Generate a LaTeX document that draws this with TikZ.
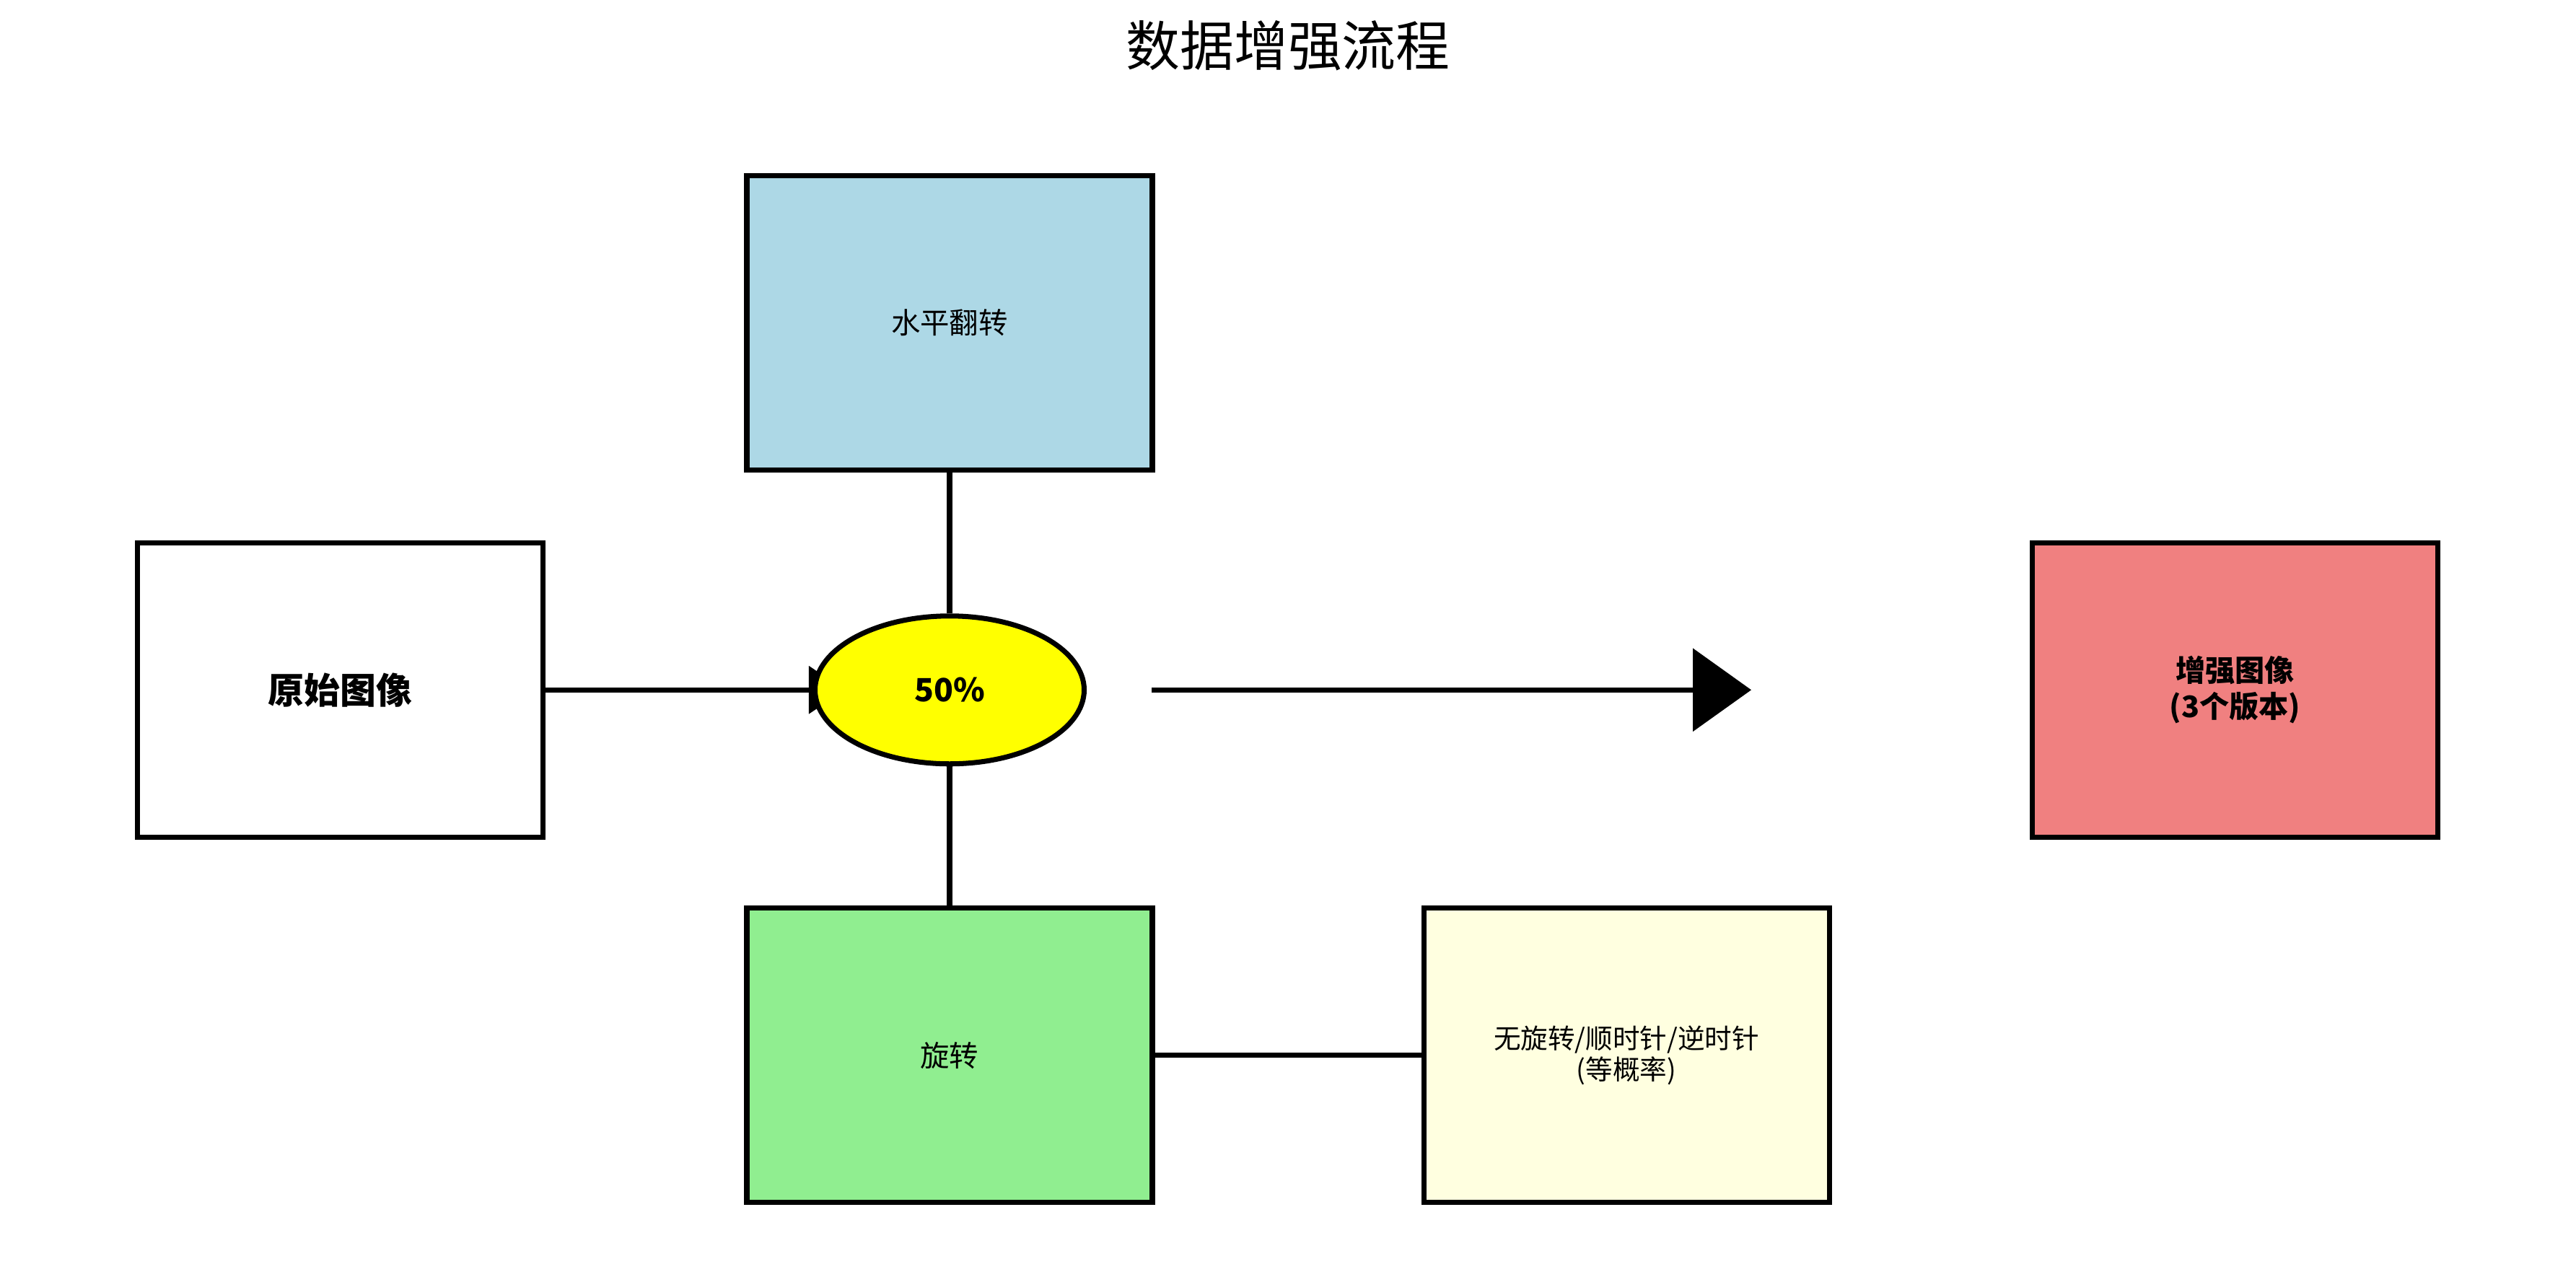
\documentclass[tikz,border=0pt]{standalone}
\usepackage{fontspec}
\setmainfont{Noto Sans CJK SC}
\usetikzlibrary{shapes.geometric,arrows.meta,backgrounds}
\definecolor{cblue}{HTML}{ADD8E6}
\definecolor{cgreen}{HTML}{90EE90}
\definecolor{ccoral}{HTML}{F08080}
\definecolor{cyellowl}{HTML}{FFFFE0}
\definecolor{cyellow}{HTML}{FFFF00}
\tikzset{
  box/.style={draw=black, line width=2pt, rectangle, minimum width=56.2mm, minimum height=40.8mm, inner sep=0pt, align=center},
  conn/.style={draw=black, line width=2pt},
  normtxt/.style={font=\fontsize{11.5pt}{14pt}\selectfont},
  boldtxt/.style={font=\fontsize{11.7pt}{14.2pt}\selectfont\bfseries},
}
\begin{document}
\begin{tikzpicture}[x=0.22768mm, y=-0.22768mm]
\path[use as bounding box] (0,0) rectangle (1568,777);
\node[font=\fontsize{21.3pt}{25pt}\selectfont] (title) at (784,28) {数据增强流程};
\node[box, fill=cblue, normtxt] (flip) at (578,196.5) {水平翻转};
\node[box, fill=white, font=\fontsize{14.2pt}{17pt}\selectfont\bfseries] (orig) at (207,420) {原始图像};
\node[draw=black, line width=2pt, ellipse, fill=cyellow, minimum width=37.3mm, minimum height=20.5mm, inner sep=0pt, font=\fontsize{12.6pt}{15pt}\selectfont\bfseries] (ell) at (578,420) {50\%};
\node[box, fill=ccoral, boldtxt] (enh) at (1360.5,420) {增强图像\\(3个版本)};
\node[box, fill=cgreen, normtxt] (rot) at (578,642.5) {旋转};
\node[box, fill=cyellowl, font=\fontsize{10.7pt}{12.3pt}\selectfont] (opt) at (990,642.5) {无旋转/顺时针/逆时针\\(等概率)};
\coordinate (a1) at (701,420);
\coordinate (a2) at (1066,420);
\begin{pgfonlayer}{background}
\draw[conn] (flip.south) -- (ell.north);
\draw[conn] (ell.south) -- (rot.north);
\draw[conn, -{Triangle[length=5mm, width=6.5mm]}] (orig.east) -- ([xshift=4.5mm]ell.west);
\draw[conn] (rot.east) -- (opt.west);
\end{pgfonlayer}
\draw[conn, -{Triangle[length=8.1mm, width=11.4mm]}] (a1) -- (a2);
\end{tikzpicture}
\end{document}
